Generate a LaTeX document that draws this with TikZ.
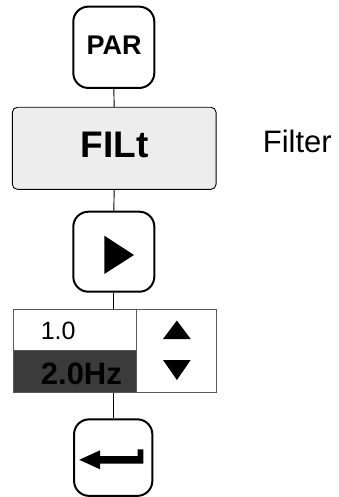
\documentclass[tikz,border=0pt]{standalone}
\usepackage{fontspec}
\setmainfont{Liberation Sans}
\begin{document}
\begin{tikzpicture}[x=1pt,y=-1pt,
  keybox/.style={draw=black,line width=2pt,rounded corners=15pt,fill=white,inner sep=0pt},
  menubox/.style={draw=black,line width=0.9pt,rounded corners=5pt,fill=black!7,inner sep=0pt},
  cell/.style={draw=black!65,line width=0.9pt,inner sep=0pt},
  link/.style={draw=black,line width=0.9pt},
  txt/.style={inner sep=0pt,anchor=base}]
\useasboundingbox (0,0) rectangle (339,497);
% boxes
\node[keybox,minimum width=81pt,minimum height=81.3pt] (par) at (113.8,47.3) {};
\node[menubox,minimum width=203.7pt,minimum height=82pt] (filt) at (114.2,148.3) {};
\node[keybox,minimum width=81pt,minimum height=80pt] (play) at (113.8,251.7) {};
\node[cell,fill=white,minimum width=123.4pt,minimum height=41.7pt] (val) at (75,329.85) {};
\node[cell,fill=black!77,minimum width=123.4pt,minimum height=41.6pt] (sel) at (75,371.5) {};
\node[cell,fill=white,minimum width=80pt,minimum height=83.3pt] (arr) at (176.7,350.65) {};
\node[keybox,minimum width=78.3pt,minimum height=76.5pt] (ent) at (113.2,457.6) {};
% connectors
\draw[link] (par.south) -- (filt.north);
\draw[link] (filt.south) -- (play.north);
\draw[link] (play.south) -- (play.south |- val.north);
\draw[link] (ent.north |- sel.south) -- (ent.north);
% texts
\node[txt,font=\bfseries\fontsize{27}{27}\selectfont] (partext) at (114,55) {PAR};
\node[txt,font=\bfseries\fontsize{37}{37}\selectfont] (filttext) at (114.5,157.3) {FILt};
\node[txt,anchor=base west,font=\fontsize{31}{31}\selectfont] (filter) at (262.7,152.7) {Filter};
\node[txt,anchor=base west,font=\fontsize{25}{25}\selectfont] (v1) at (40.6,339.3) {1.0};
\node[txt,anchor=base west,font=\bfseries\fontsize{31}{31}\selectfont] (v2) at (40.7,384) {2.0Hz};
% symbols
\fill[black] (104.3,235.7) -- (134,255) -- (104.3,274) -- cycle;
\fill[black] (163,339) -- (176.9,320.5) -- (190.7,339) -- cycle;
\fill[black] (163,360) -- (190.7,360) -- (176.9,380) -- cycle;
\fill[black] (79.3,459.8) -- (100,450.3) -- (100,456) -- (137.7,456) -- (137.7,449.3)
  -- (143.3,449.3) -- (143.3,463.7) -- (100,463.7) -- (100,469.3) -- cycle;
\end{tikzpicture}
\end{document}
